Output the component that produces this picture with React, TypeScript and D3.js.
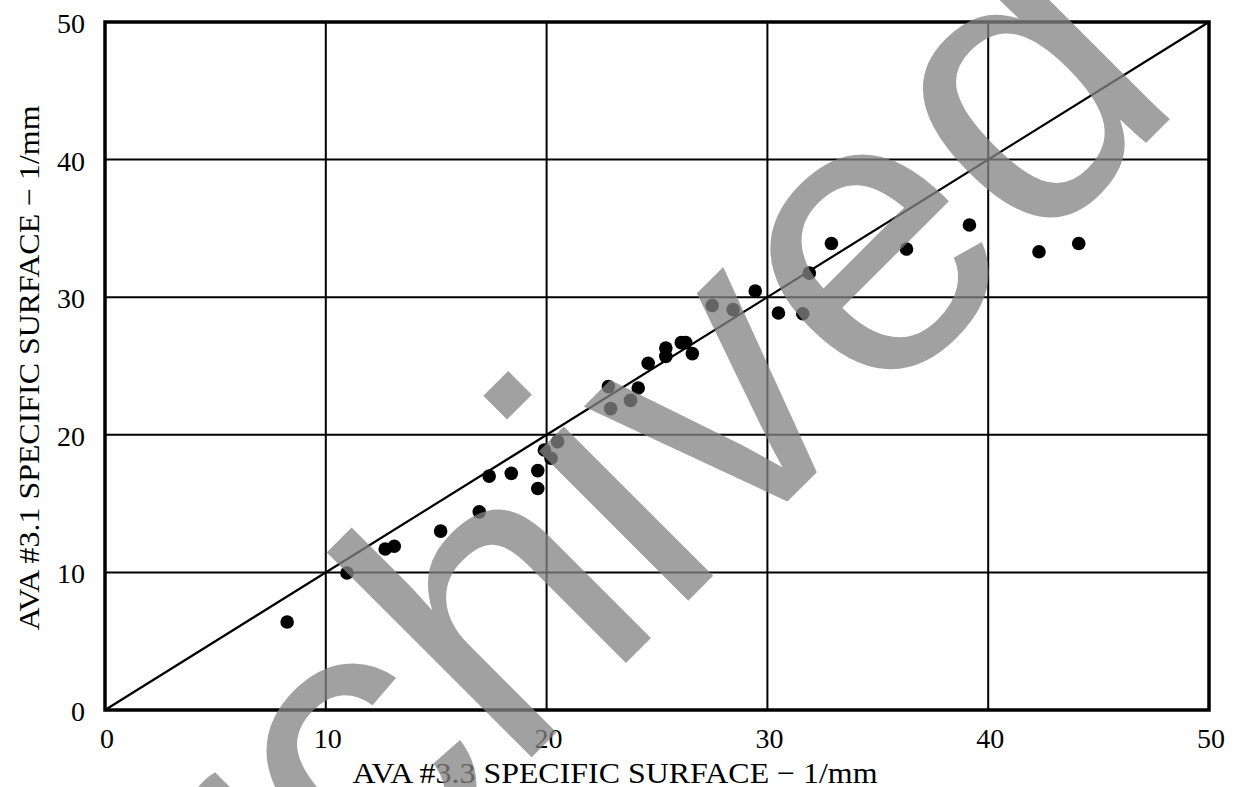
import React, { useEffect, useRef } from 'react';
import * as d3 from 'd3';

// AVA #3.3 vs AVA #3.1 specific surface (1/mm)
const xVals = [8.25, 10.96, 12.69, 13.1, 15.2, 16.95, 17.4, 18.4, 19.6, 19.6, 19.9, 20.2, 20.5, 22.8, 22.9, 23.8, 24.15, 24.6, 25.4, 25.4, 26.1, 26.3, 26.6, 27.5, 28.45, 29.45, 30.5, 31.6, 31.9, 32.9, 36.3, 39.15, 42.3, 44.1];
const yVals = [6.4, 9.96, 11.7, 11.9, 13.0, 14.4, 17.0, 17.2, 16.1, 17.4, 18.9, 18.3, 19.5, 23.5, 21.9, 22.5, 23.4, 25.2, 26.3, 25.7, 26.7, 26.7, 25.9, 29.4, 29.1, 30.45, 28.85, 28.8, 31.75, 33.9, 33.5, 35.25, 33.3, 33.9];
const tickVals = [0, 10, 20, 30, 40, 50];
const xTitle = 'AVA #3.3 SPECIFIC SURFACE \u2212 1/mm';
const yTitle = 'AVA #3.1 SPECIFIC SURFACE \u2212 1/mm';
const watermark = 'Archived';

const W = 1238, H = 787;
const margin = { left: 105, right: 29, top: 22, bottom: 77 };

export default function App() {
  const ref = useRef<SVGSVGElement>(null);

  useEffect(() => {
    const svg = d3.select(ref.current);
    svg.selectAll('*').remove();

    const x = d3.scaleLinear().domain([0, 50]).range([margin.left, W - margin.right]);
    const y = d3.scaleLinear().domain([0, 50]).range([H - margin.bottom, margin.top]);
    const serif = '"Liberation Serif", "DejaVu Serif", serif';

    // grid
    const grid = svg.append('g');
    grid.selectAll('line.v')
      .data(tickVals.slice(1, -1))
      .enter()
      .append('line')
      .attr('x1', d => x(d)).attr('x2', d => x(d))
      .attr('y1', y(0)).attr('y2', y(50))
      .attr('stroke', '#000').attr('stroke-width', 2);
    grid.selectAll('line.h')
      .data(tickVals.slice(1, -1))
      .enter()
      .append('line')
      .attr('y1', d => y(d)).attr('y2', d => y(d))
      .attr('x1', x(0)).attr('x2', x(50))
      .attr('stroke', '#000').attr('stroke-width', 2);

    // 1:1 line
    svg.append('line')
      .attr('x1', x(0)).attr('y1', y(0))
      .attr('x2', x(50)).attr('y2', y(50))
      .attr('stroke', '#000').attr('stroke-width', 2.2);

    // frame
    svg.append('rect')
      .attr('x', x(0)).attr('y', y(50))
      .attr('width', x(50) - x(0)).attr('height', y(0) - y(50))
      .attr('fill', 'none').attr('stroke', '#000').attr('stroke-width', 3.5);

    // points
    svg.append('g')
      .selectAll('circle')
      .data(xVals.map((v, i) => [v, yVals[i]]))
      .enter()
      .append('circle')
      .attr('cx', d => x(d[0]))
      .attr('cy', d => y(d[1]))
      .attr('r', 6.8)
      .attr('fill', '#000');

    // tick labels
    svg.append('g')
      .selectAll('text')
      .data(tickVals)
      .enter()
      .append('text')
      .attr('x', d => x(d) + 2)
      .attr('y', y(0) + 38)
      .attr('text-anchor', 'middle')
      .style('font-family', serif)
      .style('font-size', '28px')
      .text(d => d);
    svg.append('g')
      .selectAll('text')
      .data(tickVals)
      .enter()
      .append('text')
      .attr('x', 85)
      .attr('y', d => y(d) + 11)
      .attr('text-anchor', 'end')
      .style('font-family', serif)
      .style('font-size', '28px')
      .text(d => d);

    // axis titles
    svg.append('text')
      .attr('x', 615)
      .attr('y', 783)
      .attr('text-anchor', 'middle')
      .attr('textLength', 525)
      .attr('lengthAdjust', 'spacingAndGlyphs')
      .style('font-family', serif)
      .style('font-size', '30px')
      .text(xTitle);
    svg.append('text')
      .attr('transform', 'translate(39,368) rotate(-90)')
      .attr('text-anchor', 'middle')
      .attr('textLength', 525)
      .attr('lengthAdjust', 'spacingAndGlyphs')
      .style('font-family', serif)
      .style('font-size', '30px')
      .text(yTitle);

    // watermark
    svg.append('text')
      .attr('transform', 'translate(638,651) rotate(-45)')
      .attr('text-anchor', 'middle')
      .style('font-family', '"Liberation Sans", Arial, sans-serif')
      .style('font-size', '400px')
      .attr('fill', '#838383')
      .attr('fill-opacity', 0.76)
      .text(watermark);
  }, []);

  return (
    <svg
      ref={ref}
      width={W}
      height={H}
      style={{ position: 'absolute', left: 0, top: 0, background: '#fff' }}
    />
  );
}
